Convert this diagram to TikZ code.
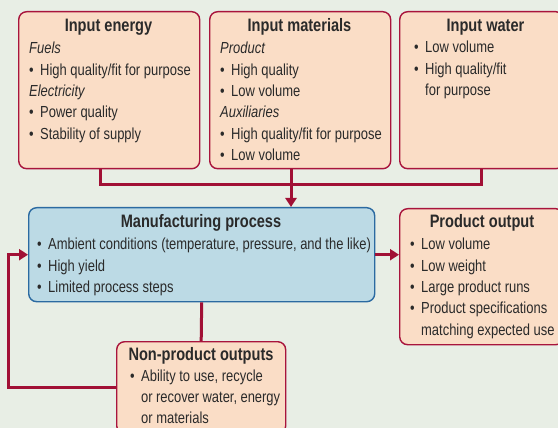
\documentclass[tikz,border=0pt]{standalone}
\usepackage{fontspec}
\setmainfont{Liberation Sans}[FakeStretch=0.81]
\usetikzlibrary{arrows.meta}
\definecolor{bgcol}{HTML}{E8EEE5}
\definecolor{peach}{HTML}{FADDC6}
\definecolor{crimson}{HTML}{A8143C}
\definecolor{linecol}{HTML}{A11035}
\definecolor{procfill}{HTML}{BCDAE5}
\definecolor{procline}{HTML}{2B6AA1}
\definecolor{inkcol}{HTML}{2A2A2A}
% bullet and continuation indents for list lines
\newcommand{\bulitem}{\makebox[11pt][l]{\textbullet}}
\newcommand{\contitem}{\hspace*{11pt}}
\begin{document}
\begin{tikzpicture}[x=1pt,y=-1pt,
  panel/.style={draw=crimson, fill=peach, line width=1.4pt, rounded corners=8pt,
    inner sep=0pt, anchor=north west},
  procbox/.style={panel, draw=procline, fill=procfill},
  heading/.style={anchor=base, inner sep=0pt, text=inkcol,
    font=\bfseries\fontsize{18}{21}\selectfont},
  listtext/.style={anchor=base west, inner sep=0pt, text=inkcol,
    font=\fontsize{16}{21.3}\selectfont},
  conn/.style={draw=linecol, line width=3pt},
  tip/.style={-{Triangle[length=9pt,width=11pt]}}]
  % canvas
  \fill[bgcol] (0,0) rectangle (558,428);
  \useasboundingbox (0,0) rectangle (558,428);
  \clip (0,0) rectangle (558,428);

  % boxes
  \node[panel, minimum width=181pt, minimum height=157pt] (energy) at (18,11) {};
  \node[panel, minimum width=181pt, minimum height=157pt] (materials) at (209,11) {};
  \node[panel, minimum width=164pt, minimum height=157pt] (water) at (399,11) {};
  \node[procbox, minimum width=346pt, minimum height=94pt] (mfg) at (28,207) {};
  \node[panel, minimum width=164pt, minimum height=136pt] (prod) at (399,208) {};
  \node[panel, minimum width=169pt, minimum height=92pt] (nonprod) at (116,341) {};

  % connectors
  \coordinate (energyTap) at (100,0);
  \coordinate (matTap) at (291,0);
  \coordinate (loopX) at (8,0);
  \draw[conn] (energy.south -| energyTap) -- ++(0,15) -| (water.south);
  \draw[conn, tip] (materials.south -| matTap) -- (mfg.north -| matTap);
  \draw[conn, tip] (mfg.east) -- (mfg.east -| prod.west);
  \draw[conn] (mfg.south) -- (nonprod.north);
  \draw[conn, tip] (nonprod.west) -- (nonprod.west -| loopX) |- (mfg.west);

  % headings
  \node[heading] (energyT) at (108.5,32) {Input energy};
  \node[heading] (materialsT) at (299.5,32) {Input materials};
  \node[heading] (waterT) at (485.5,32) {Input water};
  \node[heading] (mfgT) at (201,227) {Manufacturing process};
  \node[heading] (prodT) at (482,228) {Product output};
  \node[heading] (nonprodT) at (201,360) {Non-product outputs};

  % lists
  \node[listtext] (energyL) at (29,54) {\parbox[t]{170pt}{%
    \textit{Fuels}\\
    \bulitem High quality/fit for purpose\\
    \textit{Electricity}\\
    \bulitem Power quality\\
    \bulitem Stability of supply}};
  \node[listtext] (materialsL) at (220,54) {\parbox[t]{170pt}{%
    \textit{Product}\\
    \bulitem High quality\\
    \bulitem Low volume\\
    \textit{Auxiliaries}\\
    \bulitem High quality/fit for purpose\\
    \bulitem Low volume}};
  \node[listtext] (waterL) at (414,53) {\parbox[t]{145pt}{%
    \bulitem Low volume\\
    \bulitem High quality/fit\\
    \contitem for purpose}};
  \node[listtext] (mfgL) at (37,250) {\parbox[t]{335pt}{%
    \bulitem Ambient conditions (temperature, pressure, and the like)\\
    \bulitem High yield\\
    \bulitem Limited process steps}};
  \node[listtext] (prodL) at (410,250) {\parbox[t]{150pt}{%
    \bulitem Low volume\\
    \bulitem Low weight\\
    \bulitem Large product runs\\
    \bulitem Product specifications\\
    \contitem matching expected use}};
  \node[listtext] (nonprodL) at (130,381) {\parbox[t]{150pt}{%
    \bulitem Ability to use, recycle\\
    \contitem or recover water, energy\\
    \contitem or materials}};
\end{tikzpicture}
\end{document}
